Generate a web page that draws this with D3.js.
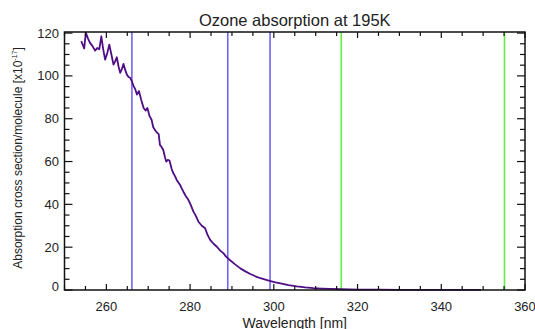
<!DOCTYPE html>
<html>
<head>
<meta charset="utf-8">
<script src="https://cdn.jsdelivr.net/npm/d3@7"></script>
<style>
  body { margin: 0; background: #fff; }
  text { font-family: "Liberation Sans", Arial, sans-serif; fill: #222; }
</style>
</head>
<body>
<svg id="chart"></svg>
<script>
// wavelength (nm) and O3 cross section (x10^-17)
var wavelength = [254.0, 254.7, 255.1, 255.6, 256.1, 256.7, 257.3, 257.8, 258.3, 258.8, 259.2, 259.7, 260.2, 260.7,
  261.2, 261.7, 262.1, 262.5, 262.9, 263.3, 263.7, 264.1, 264.5, 264.9, 265.3, 265.7, 266.1, 266.5, 266.9,
  267.3, 267.8, 268.3, 268.9, 269.4, 269.8, 270.3, 270.8, 271.2, 271.7, 272.1, 272.5, 272.8, 273.2, 273.6,
  274.0, 274.3, 274.7, 275.1, 275.6, 276.0, 276.4, 276.8, 277.2, 277.6, 278.0, 278.4, 279.0, 279.5, 280.1,
  280.8, 281.4, 282.0, 282.8, 283.6, 284.2, 284.8, 285.6, 286.4, 287.2, 288.0, 288.6, 289.2, 290.6, 292.0,
  293.2, 294.4, 295.6, 296.8, 298.0, 299.2, 300.4, 301.6, 303.5, 305.5, 307.5, 309.5, 311.5, 313.5, 316.0,
  320.0, 325.0, 330.0, 335.0, 340.0, 345.0, 349.5];
var crossSection = [116.2, 112.8, 120.1, 117.5, 115.4, 113.9, 111.8, 113.0, 112.4, 118.5, 113.0, 107.6, 110.5, 114.6,
  110.0, 105.3, 106.8, 108.7, 104.5, 101.4, 103.2, 105.6, 102.8, 100.6, 99.5, 99.1, 97.4, 95.2, 93.8,
  91.3, 92.9, 89.0, 85.0, 83.8, 85.0, 81.3, 79.5, 76.0, 74.5, 73.5, 72.8, 67.8, 66.8, 65.4,
  62.0, 60.0, 60.8, 60.4, 56.5, 54.5, 53.2, 51.4, 50.2, 49.1, 47.5, 45.9, 43.8, 42.4, 40.0,
  36.6, 34.5, 31.9, 30.0, 28.8, 25.6, 23.4, 21.6, 20.2, 18.4, 17.1, 15.6, 14.5, 12.2, 10.1,
  8.7, 7.5, 6.4, 5.5, 4.8, 4.2, 3.6, 3.1, 2.3, 1.7, 1.25, 0.9, 0.68, 0.5, 0.35,
  0.22, 0.14, 0.1, 0.07, 0.05, 0.04, 0.03];
var blueLines = [266.1, 289.0, 299.1];
var greenLines = [316.1, 355.1];
var xTicks = [260, 280, 300, 320, 340, 360];
var yTicks = [0, 20, 40, 60, 80, 100, 120];

var width = 535, height = 329;
var plotLeft = 64.5, plotRight = 525, plotTop = 32, plotBottom = 290;

var svg = d3.select("#chart").attr("width", width).attr("height", height);

var x = d3.scaleLinear().domain([250, 360]).range([plotLeft, plotRight]);
var y = d3.scaleLinear().domain([0, 120.5]).range([plotBottom, plotTop]);

var xMinor = d3.range(250, 361, 5);
var yMinor = d3.range(0, 121, 5);

// marker lines
svg.selectAll(".blue")
  .data(blueLines)
  .enter()
  .append("line")
  .attr("x1", d => x(d)).attr("x2", d => x(d))
  .attr("y1", plotTop).attr("y2", plotBottom)
  .attr("stroke", "#7463f4")
  .attr("stroke-width", 1.6);

svg.selectAll(".green")
  .data(greenLines)
  .enter()
  .append("line")
  .attr("x1", d => x(d)).attr("x2", d => x(d))
  .attr("y1", plotTop).attr("y2", plotBottom)
  .attr("stroke", "#66ee44")
  .attr("stroke-width", 1.6);

// curve
var data = wavelength.map((w, i) => [w, crossSection[i]]);
svg.append("path")
  .datum(data)
  .attr("d", d3.line().x(d => x(d[0])).y(d => y(d[1])))
  .attr("fill", "none")
  .attr("stroke", "#4f0d86")
  .attr("stroke-width", 1.8)
  .attr("stroke-linejoin", "round");

// axes: ticks point inward on all four sides
var axisG = svg.append("g").attr("stroke", "#111");

xMinor.forEach(function(v) {
  var len = v % 20 == 0 ? 6 : 4;
  axisG.append("line").attr("x1", x(v)).attr("x2", x(v)).attr("y1", plotBottom).attr("y2", plotBottom - len).attr("stroke-width", 1.2);
  axisG.append("line").attr("x1", x(v)).attr("x2", x(v)).attr("y1", plotTop).attr("y2", plotTop + len).attr("stroke-width", 1.2);
});
yMinor.forEach(function(v) {
  var len = v % 20 == 0 ? 8 : 5;
  axisG.append("line").attr("y1", y(v)).attr("y2", y(v)).attr("x1", plotLeft).attr("x2", plotLeft + len).attr("stroke-width", 1.2);
  axisG.append("line").attr("y1", y(v)).attr("y2", y(v)).attr("x1", plotRight).attr("x2", plotRight - len).attr("stroke-width", 1.2);
});

axisG.append("rect")
  .attr("x", plotLeft).attr("y", plotTop)
  .attr("width", plotRight - plotLeft).attr("height", plotBottom - plotTop)
  .attr("fill", "none")
  .attr("stroke-width", 1.5);

// tick labels
svg.selectAll(".xlab")
  .data(xTicks)
  .enter()
  .append("text")
  .attr("x", d => x(d))
  .attr("y", 311)
  .attr("text-anchor", "middle")
  .style("font-size", "13px")
  .text(d => d);

svg.selectAll(".ylab")
  .data(yTicks)
  .enter()
  .append("text")
  .attr("x", 59)
  .attr("y", d => (d == 0 ? y(d) - 4 : y(d)) + 4.5)
  .attr("text-anchor", "end")
  .style("font-size", "13px")
  .text(d => d);

// titles
svg.append("text")
  .attr("x", (plotLeft + plotRight) / 2)
  .attr("y", 26)
  .attr("text-anchor", "middle")
  .style("font-size", "16.5px")
  .text("Ozone absorption at 195K");

svg.append("text")
  .attr("x", (plotLeft + plotRight) / 2)
  .attr("y", 328)
  .attr("text-anchor", "middle")
  .style("font-size", "14px")
  .text("Wavelength [nm]");

var yl = svg.append("text")
  .attr("transform", "translate(22," + 158 + ") rotate(-90)")
  .attr("text-anchor", "middle")
  .style("font-size", "12px");
yl.append("tspan").text("Absorption cross section/molecule [x10");
yl.append("tspan").attr("dy", -5).style("font-size", "7px").text("-17");
yl.append("tspan").attr("dy", 5).text("]");
</script>
</body>
</html>
